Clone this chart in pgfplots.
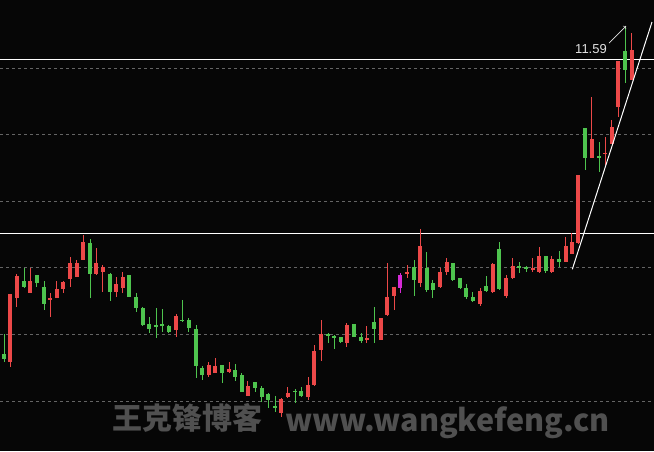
\documentclass[border=0pt]{standalone}
\usepackage{fontspec}
\usepackage{pgfplots}
\usepackage{pgfplotstable}
\pgfplotsset{compat=1.18}
\newfontfamily\cjk{Noto Sans CJK SC}
\newfontfamily\labf{Liberation Sans}
\definecolor{cred}{RGB}{236,72,72}
\definecolor{cgreen}{RGB}{78,196,78}
\definecolor{cmag}{RGB}{214,42,214}
\definecolor{bg}{RGB}{6,6,6}
\definecolor{wm}{RGB}{80,80,80}
\definecolor{gridc}{RGB}{100,100,100}
\definecolor{lab}{RGB}{225,225,225}

% candle data, vertical values in chart pixels from the top (x = candle centre)
\pgfplotstableread{
x hi lo bt bb
10 294 367 294 361.7
16.7 274 307 275.7 298.3
30 268.3 293.3 281 293.3
50 293.3 317.3 297.7 300
56.7 281 298.3 289.3 297.7
63.3 281 293.3 281.7 289.3
70 256.7 286.7 262.7 279
76.7 260 276.7 263.3 276.7
83.3 235 260 241.7 260
96 248.3 275 263.3 274.3
102.7 265 291.7 266.7 271.7
116 276.7 296.7 284 292
122.7 271.7 293.3 276.7 288
176 313.7 336.7 316 330
208.7 361.7 376.7 365 375
215.3 358.3 373.3 366 372.7
229 361.7 373.3 369 371.7
247.7 380.7 396 386 396
281 398.3 416.7 399.3 413.3
287.7 387.3 398.3 392.7 397.3
308 377 400 385 397
314.3 345 386 350.7 385
321 320 361 334.3 350
346.7 323.3 346.7 325 343.3
366.7 326 342.7 338.3 340
380.7 318.3 340 318.3 340
387 263.3 316 296.7 315
394 287.3 310 287.3 295.7
407 265 277.5 271.7 274
420 229.3 286.7 246 283.3
440 268.3 288.3 271.7 286.7
446.7 258.3 275 262.3 271.7
480 287.7 306 290.7 304.3
492.7 263.3 293.3 264.3 291.7
506 275 297.7 278.3 295.7
512.7 258.3 279 266 278.3
532.7 258.3 271.7 268.3 270
539 246.7 273.3 256 272
551.7 256 272.7 259.3 271.7
565.7 237 261.7 246 261.7
571.7 233.3 254 241.7 254
578.3 175 244 175 243.3
591.7 97.3 158.3 139 158.3
605 136.7 165 152.7 154.2
611.7 120 144 126.7 144
618.3 60.7 116.7 60.7 107.3
631.7 32.7 80 50 80
}\redtab

\pgfplotstableread{
x hi lo bt bb
4 334 361.7 354 358.7
24 268.3 288.3 281 286.7
36.7 275 286.7 275 283.3
44 281 310 286.7 304
90 239.3 298.3 242.7 274.3
110 273.3 300.7 274.3 292.3
128.7 275 296.7 275 296.7
136 292.7 311.7 297.3 308
142.7 306.5 326 308 325
149.3 317.3 332.7 324 329
156 308.3 338.3 325.3 326.7
162.3 309 331.7 323.7 325.7
168.7 324.5 332.7 325.8 331.7
182.3 300 321.7 319.5 321
188.7 318.3 332 320 328
196 324.5 377.5 329 365.5
202 366.3 379.7 368 375
222 365 383.3 365 373.3
235 364 380.7 370 377.3
241.7 372.7 391.7 375 391.7
255 381.7 391.7 382.3 388.3
261.7 386 401.7 387.7 396.7
268 393.3 408.3 394.3 400
275 396 411.7 406.4 407.7
295 389.3 403.3 390.7 392
301 386.7 397.3 391 396
328.3 333.3 343.3 334 335.3
334 335 349.3 336 337.3
340.7 336.7 343.3 336.7 341.7
354 324 337.3 324 336.7
361 332.7 342.7 337.3 340.7
374 306.7 343.3 321.7 329.3
414 259.7 295.5 267 280
426.7 251.7 292 268 290
432.7 280 297.7 283.3 290
452.7 262.7 281 262.7 280
460 277.7 289 278.3 288.3
466 284.3 299 287.7 296.7
472.7 291.7 302.3 296.7 301
486 275.7 291.7 286 291
499 242.3 290 249 289
519 262.3 273.3 266 268.3
526 265.7 272.3 267.3 268.5
545.7 256 273.3 256 270.7
559 250.7 267.3 259.3 261.7
585 128.3 170 128.3 158.3
599.3 141.7 171.7 156 158.3
625 26 82.7 50.7 70
}\greentab

\pgfplotstableread{
x hi lo bt bb
400 272.5 292.7 275 288.3
}\magtab

\pgfplotsset{
  wick/.style={draw=none, mark=none, forget plot,
    error bars/.cd, y dir=both, y explicit, error mark=none,
    error bar style={draw=#1, line width=1pt}},
  body/.style={draw=none, mark=none, forget plot,
    error bars/.cd, y dir=both, y explicit, error mark=none,
    error bar style={draw=#1, line width=4pt}},
}

\begin{document}
\begin{tikzpicture}
\useasboundingbox (0,0) rectangle (654pt,451pt);
\fill[bg] (0,0) rectangle (654pt,451pt);
\node[anchor=west, inner sep=0pt, text=wm, font=\cjk\bfseries\fontsize{30}{30}\selectfont] at (112pt,33pt) {王克锋博客};
\node[anchor=base west, inner sep=0pt, text=wm, font=\cjk\bfseries\fontsize{30.5}{30.5}\selectfont] at (285pt,20pt) {www.wangkefeng.cn};
\begin{axis}[
  at={(0pt,0pt)}, anchor=south west,
  scale only axis, width=654pt, height=451pt,
  xmin=0, xmax=654, ymin=0, ymax=451, y dir=reverse,
  axis line style={draw=none},
  xtick=\empty,
  ytick={68,134.6,201.2,267.8,334.4,401},
  yticklabels={},
  major tick length=0pt,
  ymajorgrids,
  grid style={draw=gridc, line width=0.8pt, dash pattern=on 3pt off 3pt},
  extra y ticks={59,233},
  extra y tick labels={},
  extra y tick style={grid style={draw=white, solid, line width=1pt}},
  clip=true,
]
\addplot[wick=cred] table[x=x, y expr={0.5*(\thisrow{hi}+\thisrow{lo})}, y error expr={0.5*(\thisrow{lo}-\thisrow{hi})}] {\redtab};
\addplot[body=cred] table[x=x, y expr={0.5*(\thisrow{bt}+\thisrow{bb})}, y error expr={0.5*(\thisrow{bb}-\thisrow{bt})}] {\redtab};
\addplot[wick=cgreen] table[x=x, y expr={0.5*(\thisrow{hi}+\thisrow{lo})}, y error expr={0.5*(\thisrow{lo}-\thisrow{hi})}] {\greentab};
\addplot[body=cgreen] table[x=x, y expr={0.5*(\thisrow{bt}+\thisrow{bb})}, y error expr={0.5*(\thisrow{bb}-\thisrow{bt})}] {\greentab};
\addplot[wick=cmag] table[x=x, y expr={0.5*(\thisrow{hi}+\thisrow{lo})}, y error expr={0.5*(\thisrow{lo}-\thisrow{hi})}] {\magtab};
\addplot[body=cmag] table[x=x, y expr={0.5*(\thisrow{bt}+\thisrow{bb})}, y error expr={0.5*(\thisrow{bb}-\thisrow{bt})}] {\magtab};
\addplot[white, line width=1pt, mark=none, forget plot] coordinates {(572.3,269.3) (652,22)};
\draw[lab, line width=0.7pt, ->] (axis cs:609,43) -- (axis cs:626,26);
\node[anchor=base east, inner sep=0pt, text=lab, font=\labf\fontsize{13}{13}\selectfont] at (axis cs:607,53) {11.59};
\end{axis}
\end{tikzpicture}
\end{document}
